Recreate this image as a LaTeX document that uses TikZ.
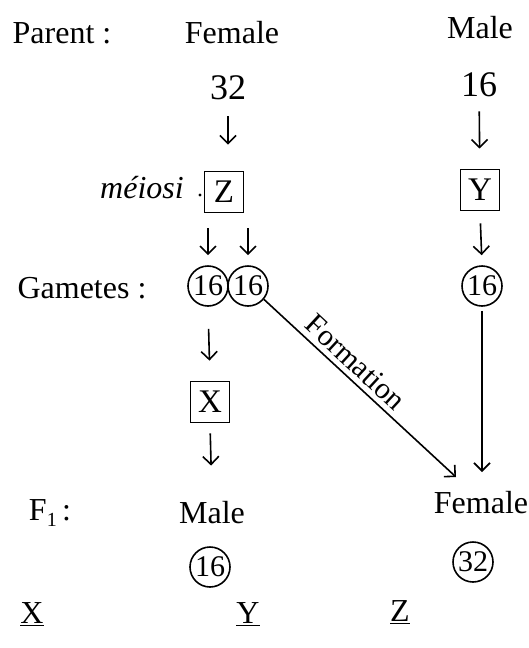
\documentclass[tikz,border=0pt]{standalone}
\usepackage{fontspec}
\setmainfont{Liberation Serif}
\usetikzlibrary{arrows.meta}
\begin{document}
\begin{tikzpicture}[x=1pt,y=-1pt,
  lbl/.style={font=\fontsize{32}{34}\selectfont, inner sep=0pt},
  num/.style={font=\fontsize{36}{38}\selectfont, inner sep=0pt},
  boxn/.style={draw, line width=1.8pt, minimum width=39pt, minimum height=41pt, inner sep=0pt, font=\fontsize{33}{35}\selectfont},
  circn/.style={draw, circle, line width=1.6pt, minimum size=40pt, inner sep=0pt, font=\fontsize{30}{32}\selectfont},
  arr/.style={line width=1.6pt, -{Straight Barb[length=8pt,width=16pt,line width=1.6pt]}},
  hand/.style={font=\fontsize{32}{34}\selectfont\itshape, inner sep=0pt}
]
\useasboundingbox (0,0) rectangle (528,648);

% top row
\node[lbl] (parent) at (62,33) {Parent :};
\node[lbl] (pfemale) at (232,33) {Female};
\node[lbl] (pmale) at (480,28) {Male};

\node[num] (n32) at (228,88) {32};
\node[num] (n16) at (479,85) {16};

% boxes
\node[boxn] (Z) at (224,192) {Z};
\node[boxn] (Y) at (480,190) {Y};
\node[boxn] (X) at (210,402) {X};

\node[hand] (meiosi) at (142,188) {méiosi};
\node[circle, fill, inner sep=1.2pt] (dot) at (200,195) {};

% gametes
\node[lbl] (gametes) at (82,288) {Gametes :};
\node[circn] (g1) at (208,286) {16};
\node[circn] (g2) at (248,286) {16};
\node[circn] (g3) at (482,286) {16};

% F1
\node[lbl] (f1) at (50,513) {F\raisebox{-0.4ex}{\fontsize{20}{20}\selectfont 1}\,:};
\node[lbl] (fmale) at (212,513) {Male};
\node[lbl] (ffemale) at (481,503) {Female};
\node[circn] (c16) at (210,567) {16};
\node[circn] (c32) at (473,562) {32};

% bottom letters
\node[lbl] (lx) at (32,614) {\underline{X}};
\node[lbl] (ly) at (248,614) {\underline{Y}};
\node[lbl] (lz) at (400,612) {\underline{Z}};

% short arrows
\draw[arr, shorten <=16pt, shorten >=26pt] (n32) -- (n32 |- Z.north);
\draw[arr, shorten <=14pt, shorten >=20pt] (n16) -- (Y);
\draw[arr, shorten <=15pt, shorten >=10pt] (g1 |- Z.south) -- (g1.north);
\draw[arr, shorten <=15pt, shorten >=10pt] (g2 |- Z.south) -- (g2.north);
\draw[arr, shorten <=12pt, shorten >=10pt] (Y.south) -- (g3.north);
\draw[arr, shorten <=22pt, shorten >=20pt] (g1.south) -- (X.north);
\draw[arr, shorten <=10pt, shorten >=36pt] (X.south) -- (fmale.north);

% long connectors
\coordinate (tipd) at (456,477);
\coordinate (tipv) at (482,472);
\draw[arr] (g2.-40) -- node[pos=0.42, sloped, above=2pt, font=\fontsize{30}{32}\selectfont] {Formation} (tipd);
\draw[arr] (g3.south) ++(0,4) -- (tipv);
\end{tikzpicture}
\end{document}
